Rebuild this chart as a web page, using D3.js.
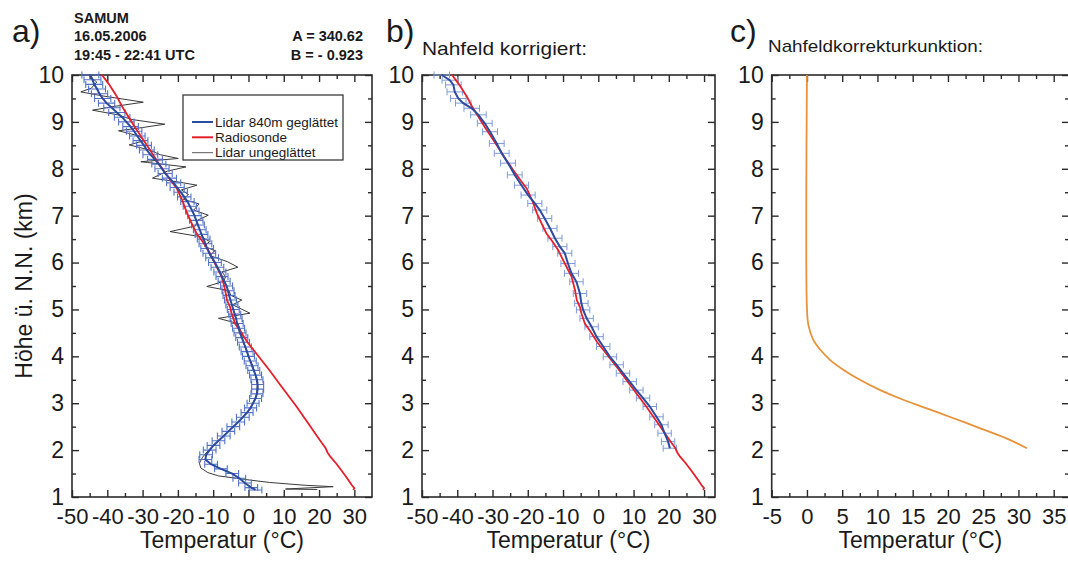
<!DOCTYPE html>
<html><head><meta charset="utf-8">
<script src="https://cdn.jsdelivr.net/npm/d3@7"></script>
<style>
body{margin:0;background:#fff}
svg{display:block}
text{font-family:"Liberation Sans",Arial,Helvetica,sans-serif;fill:#1a1a1a}
</style>
</head><body>
<svg id="chart" width="1068" height="570"></svg>
<script>
// ---------- DATA ----------
const heightTicks = [1,2,3,4,5,6,7,8,9,10];
const heightMinorTicks = [1.5,2.5,3.5,4.5,5.5,6.5,7.5,8.5,9.5];
const tempTicksAB = [-50,-40,-30,-20,-10,0,10,20,30];
const tempMinorAB = [-45,-35,-25,-15,-5,5,15,25];
const tempTicksC = [-5,0,5,10,15,20,25,30,35];
const tempMinorC = [-2.5,2.5,7.5,12.5,17.5,22.5,27.5,32.5];

// Radiosonde (red), height km / temperature °C
const radioH = [10.0,9.8,9.54,9.3,9.11,8.9,8.72,8.4,8.2,7.97,7.75,7.58,7.3,7.15,7.05,6.85,6.62,6.45,6.27,6.1,5.98,5.7,5.5,5.41,5.2,5.05,4.92,4.7,4.49,4.3,4.14,3.71,3.35,2.93,2.5,2.3,2.15,2.05,1.95,1.86,1.72,1.58,1.45,1.36,1.25,1.19,1.15];
const radioT = [-41.5,-39.5,-37.3,-35.6,-34.0,-32.3,-30.7,-27.9,-26.2,-24.1,-22.0,-20.3,-18.6,-17.9,-17.4,-16.2,-14.7,-13.0,-11.4,-10.3,-9.5,-7.6,-6.9,-6.6,-6.1,-5.2,-4.8,-3.8,-1.9,-0.3,1.4,5.9,9.4,13.6,17.6,19.4,20.8,21.8,22.4,23.2,24.8,26.2,27.5,28.3,29.3,30.0,29.7];

// Lidar 840m geglättet (blue, panel a)
const lidarH = [10.0,9.9,9.8,9.7,9.6,9.5,9.4,9.3,9.2,9.1,9.0,8.9,8.8,8.7,8.6,8.5,8.4,8.3,8.2,8.1,8.0,7.9,7.8,7.7,7.6,7.5,7.4,7.3,7.2,7.1,7.0,6.9,6.8,6.7,6.6,6.5,6.4,6.3,6.2,6.1,6.0,5.9,5.8,5.7,5.6,5.5,5.4,5.3,5.2,5.1,5.0,4.9,4.8,4.7,4.6,4.5,4.4,4.3,4.2,4.1,4.0,3.9,3.8,3.7,3.6,3.5,3.4,3.3,3.2,3.1,3.0,2.9,2.8,2.7,2.6,2.5,2.4,2.3,2.2,2.1,2.0,1.9,1.8,1.7,1.6,1.5,1.4,1.3,1.2,1.15];
const lidarT = [-44.8,-44.2,-43.7,-42.9,-42.2,-41.3,-40.2,-38.7,-37.3,-35.8,-34.6,-33.4,-32.4,-31.5,-30.6,-29.6,-28.8,-27.8,-26.5,-25.4,-24.5,-23.6,-22.4,-21.2,-20.2,-19.2,-18.2,-17.3,-16.6,-15.9,-15.3,-14.8,-14.3,-13.8,-13.3,-12.7,-12.2,-11.7,-11.1,-10.3,-9.5,-8.8,-8.1,-7.5,-6.9,-6.2,-5.8,-5.5,-5.1,-4.7,-4.3,-3.9,-3.5,-3.2,-2.8,-2.4,-1.9,-1.4,-0.9,-0.4,0.0,0.5,1.0,1.5,2.0,2.4,2.6,2.6,2.4,2.0,1.3,0.6,-0.4,-1.6,-2.9,-4.3,-5.7,-7.0,-8.5,-9.9,-11.0,-12.0,-12.2,-10.6,-7.8,-4.6,-2.6,-1.0,0.8,2.0];
const lidarErr = [2.4,2.4,2.4,2.4,2.3,2.3,2.3,2.3,2.3,2.2,2.2,2.2,2.2,2.2,2.1,2.1,2.1,2.1,2.1,2.0,2.0,2.0,2.0,2.0,2.0,1.9,1.9,1.9,1.9,1.9,1.9,1.9,1.8,1.8,1.8,1.8,1.8,1.8,1.8,1.8,1.8,1.8,1.7,1.7,1.7,1.7,1.7,1.7,1.7,1.7,1.7,1.7,1.7,1.7,1.7,1.7,1.7,1.7,1.7,1.7,1.7,1.7,1.7,1.7,1.7,1.7,1.7,1.7,1.7,1.7,1.7,1.7,1.7,1.8,1.8,1.8,1.8,1.8,1.8,1.8,1.8,1.8,1.8,1.8,1.8,1.8,1.8,1.8,1.8,1.8];

// Lidar ungeglättet (thin black, panel a)
const rawH = [10.0,9.85,9.72,9.64,9.55,9.42,9.33,9.25,9.15,9.05,8.95,8.88,8.81,8.70,8.60,8.51,8.40,8.30,8.22,8.15,8.04,7.95,7.80,7.72,7.65,7.55,7.45,7.35,7.25,7.12,7.01,6.90,6.78,6.66,6.55,6.45,6.35,6.25,6.15,6.02,5.90,5.80,5.70,5.60,5.49,5.40,5.30,5.20,5.10,4.92,4.81,4.70,4.55,4.40,4.20,4.00,3.80,3.60,3.40,3.20,3.00,2.80,2.60,2.40,2.20,2.00,1.85,1.72,1.62,1.52,1.45,1.40,1.36,1.31,1.25,1.22,1.17,1.16];
const rawT = [-45.3,-43.0,-44.5,-47.5,-41.0,-29.8,-38.0,-44.2,-37.0,-33.0,-23.7,-30.0,-36.8,-31.0,-29.5,-33.8,-28.0,-25.0,-19.9,-30.5,-17.7,-23.0,-27.2,-20.0,-14.6,-19.0,-17.0,-18.5,-14.0,-15.5,-11.4,-14.5,-15.0,-22.2,-13.5,-11.0,-12.5,-9.5,-11.0,-6.0,-3.0,-7.5,-6.5,-7.0,-11.8,-5.5,-5.0,-1.9,-4.5,0.4,-8.5,-3.0,-2.2,-1.8,-1.0,0.0,1.2,2.0,2.5,2.3,1.3,-0.4,-2.9,-5.7,-8.6,-11.3,-13.0,-13.9,-13.5,-11.5,-8.5,-3.5,0.5,6.0,16.0,24.0,10.5,19.5];

// Nahfeld korrigiert (blue, panel b)
const corrH = [10.0,9.89,9.79,9.64,9.50,9.40,9.29,9.15,8.97,8.79,8.54,8.33,8.12,7.87,7.65,7.44,7.26,7.12,6.94,6.73,6.52,6.34,6.20,5.98,5.77,5.59,5.34,5.13,4.99,4.81,4.63,4.42,4.21,3.99,3.82,3.64,3.46,3.28,3.11,2.93,2.71,2.54,2.36,2.18,2.04];
const corrT = [-44.4,-42.1,-41.1,-40.7,-39.7,-38.3,-35.9,-34.0,-32.2,-30.7,-28.8,-27.4,-25.6,-23.7,-21.8,-19.9,-18.0,-16.6,-15.2,-13.7,-12.3,-10.9,-9.5,-8.6,-7.6,-6.2,-5.2,-4.8,-4.3,-3.3,-1.9,-0.5,1.4,3.3,5.2,7.0,8.9,10.8,12.7,14.6,16.5,17.9,18.8,19.8,20.3];
const corrErr = [2.2,2.2,2.2,2.2,2.2,2.2,2.2,2.2,2.1,2.1,2.1,2.1,2.1,2.1,2.0,2.0,2.0,2.0,2.0,2.0,2.0,2.0,2.0,2.0,2.0,1.9,1.9,1.9,1.9,1.9,1.9,1.9,1.9,1.9,1.9,1.9,1.9,1.9,1.9,1.9,1.9,1.9,1.9,1.9,1.9];

// Nahfeldkorrekturfunktion (orange, panel c)
const funcH = [10.0,5.02,4.67,4.35,4.14,3.92,3.71,3.50,3.28,3.10,2.89,2.68,2.47,2.25,2.04];
const funcT = [0.0,0.0,0.2,0.9,1.9,3.3,5.2,7.5,10.4,13.2,17.0,20.8,24.5,28.3,31.2];

// ---------- DRAWING ----------
const svg = d3.select("#chart");
const TOP = 75, BOTTOM = 497;
const y = d3.scaleLinear().domain([1,10]).range([BOTTOM, TOP]);
const AX = "#2b2b2b";

function panel(x0, x1, dom, majors, minors) {
  const x = d3.scaleLinear().domain(dom).range([x0, x1]);
  const g = svg.append("g");
  const fmt = d => String(d);
  const style = sel => { sel.select(".domain").remove(); sel.selectAll("line").attr("stroke", AX).attr("stroke-width", 1.4); };
  g.append("g").attr("transform", `translate(0,${BOTTOM})`)
    .call(d3.axisBottom(x).tickValues(majors).tickSize(-7).tickPadding(11).tickFormat(fmt))
    .call(style).call(s => s.selectAll("text").attr("font-size", 22).attr("fill", "#1a1a1a").attr("font-family", null));
  g.append("g").attr("transform", `translate(0,${BOTTOM})`)
    .call(d3.axisBottom(x).tickValues(minors).tickSize(-4).tickFormat(""))
    .call(style);
  g.append("g").attr("transform", `translate(0,${TOP})`)
    .call(d3.axisTop(x).tickValues(majors).tickSize(-7).tickFormat("")).call(style);
  g.append("g").attr("transform", `translate(0,${TOP})`)
    .call(d3.axisTop(x).tickValues(minors).tickSize(-4).tickFormat("")).call(style);
  g.append("g").attr("transform", `translate(${x0},0)`)
    .call(d3.axisLeft(y).tickValues(heightTicks).tickSize(-7).tickPadding(8).tickFormat(fmt))
    .call(style).call(s => s.selectAll("text").attr("font-size", 23).attr("fill", "#1a1a1a").attr("font-family", null));
  g.append("g").attr("transform", `translate(${x0},0)`)
    .call(d3.axisLeft(y).tickValues(heightMinorTicks).tickSize(-4).tickFormat("")).call(style);
  g.append("g").attr("transform", `translate(${x1},0)`)
    .call(d3.axisRight(y).tickValues(heightTicks).tickSize(-7).tickFormat("")).call(style);
  g.append("g").attr("transform", `translate(${x1},0)`)
    .call(d3.axisRight(y).tickValues(heightMinorTicks).tickSize(-4).tickFormat("")).call(style);
  g.append("rect").attr("x", x0).attr("y", TOP).attr("width", x1 - x0).attr("height", BOTTOM - TOP)
    .attr("fill", "none").attr("stroke", AX).attr("stroke-width", 1.6);
  g.append("text").attr("x", (x0 + x1) / 2).attr("y", 548).attr("text-anchor", "middle")
    .attr("font-size", 23).text("Temperatur (°C)");
  const plot = g.append("g");
  return { x, g, plot };
}

function line(xs, hs, ts) {
  return d3.line().x(i => xs(ts[i])).y(i => y(hs[i]))(d3.range(hs.length));
}
function errorBars(plot, xs, hs, ts, es, color, w) {
  plot.append("path")
    .attr("d", d3.range(hs.length).map(i => {
      const yy = y(hs[i]), a = xs(ts[i] - es[i]), b = xs(ts[i] + es[i]);
      return `M${a},${yy}H${b}M${a},${yy - 3.5}V${yy + 3.5}M${b},${yy - 3.5}V${yy + 3.5}`;
    }).join(""))
    .attr("fill", "none").attr("stroke", color).attr("stroke-width", w);
}

const BLUE = "#2c4a9e", RED = "#e5202b", ORANGE = "#e8923a";

// Panel a
const pa = panel(72, 372, [-50, 35], tempTicksAB, tempMinorAB);
pa.plot.append("path").attr("d", line(pa.x, rawH, rawT)).attr("fill", "none").attr("stroke", "#3a3a3a").attr("stroke-width", 1);
errorBars(pa.plot, pa.x, lidarH, lidarT, lidarErr, "#5272c6", 1.1);
pa.plot.append("path").attr("d", line(pa.x, radioH, radioT)).attr("fill", "none").attr("stroke", RED).attr("stroke-width", 1.8);
pa.plot.append("path").attr("d", line(pa.x, lidarH, lidarT)).attr("fill", "none").attr("stroke", BLUE).attr("stroke-width", 2);

// legend a
const lg = svg.append("g");
lg.append("rect").attr("x", 183).attr("y", 95).attr("width", 160).attr("height", 65)
  .attr("fill", "#fff").attr("stroke", AX).attr("stroke-width", 1.2);
const legendItems = [["Lidar 840m geglättet", BLUE, 2], ["Radiosonde", RED, 2], ["Lidar ungeglättet", "#777", 1.2]];
legendItems.forEach((d, i) => {
  const yy = 122 + i * 15.3;
  lg.append("line").attr("x1", 192).attr("x2", 213).attr("y1", yy).attr("y2", yy).attr("stroke", d[1]).attr("stroke-width", d[2]);
  lg.append("text").attr("x", 215).attr("y", yy + 4.8).attr("font-size", 13.5).text(d[0]);
});

// Panel b
const pb = panel(422, 715, [-50, 33.1], tempTicksAB, tempMinorAB);
errorBars(pb.plot, pb.x, corrH, corrT, corrErr, "#7d9bdb", 1);
pb.plot.append("path").attr("d", line(pb.x, radioH, radioT)).attr("fill", "none").attr("stroke", RED).attr("stroke-width", 1.8);
pb.plot.append("path").attr("d", line(pb.x, corrH, corrT)).attr("fill", "none").attr("stroke", BLUE).attr("stroke-width", 2);

// Panel c
const pc = panel(771.7, 1069, [-5, 37.17], tempTicksC, tempMinorC);
pc.plot.append("path")
  .attr("d", d3.line().x(i => pc.x(funcT[i])).y(i => y(funcH[i])).curve(d3.curveCatmullRom.alpha(0.5))(d3.range(funcH.length)))
  .attr("fill", "none").attr("stroke", ORANGE).attr("stroke-width", 1.8);

// Y axis title
svg.append("text").attr("transform", "translate(32,286) rotate(-90)").attr("text-anchor", "middle")
  .attr("font-size", 23).text("Höhe ü. N.N. (km)");

// panel letters
[["a)", 12], ["b)", 386], ["c)", 730]].forEach(d => {
  svg.append("text").attr("x", d[1]).attr("y", 42).attr("font-size", 32).text(d[0]);
});

// header panel a
const hdr = [["SAMUM", 23], ["16.05.2006", 41], ["19:45 - 22:41 UTC", 60]];
hdr.forEach(d => svg.append("text").attr("x", 74).attr("y", d[1]).attr("font-size", 14.5).attr("font-weight", "bold").text(d[0]));
[["A = 340.62", 41], ["B = - 0.923", 60]].forEach(d => svg.append("text").attr("x", 363).attr("y", d[1])
  .attr("text-anchor", "end").attr("font-size", 14.5).attr("font-weight", "bold").text(d[0]));

svg.append("text").attr("x", 422).attr("y", 55).attr("font-size", 19).attr("textLength", 165)
  .attr("lengthAdjust", "spacingAndGlyphs").text("Nahfeld korrigiert:");
svg.append("text").attr("x", 768).attr("y", 52).attr("font-size", 17).attr("textLength", 215)
  .attr("lengthAdjust", "spacingAndGlyphs").text("Nahfeldkorrekturkunktion:");
</script>
</body></html>
